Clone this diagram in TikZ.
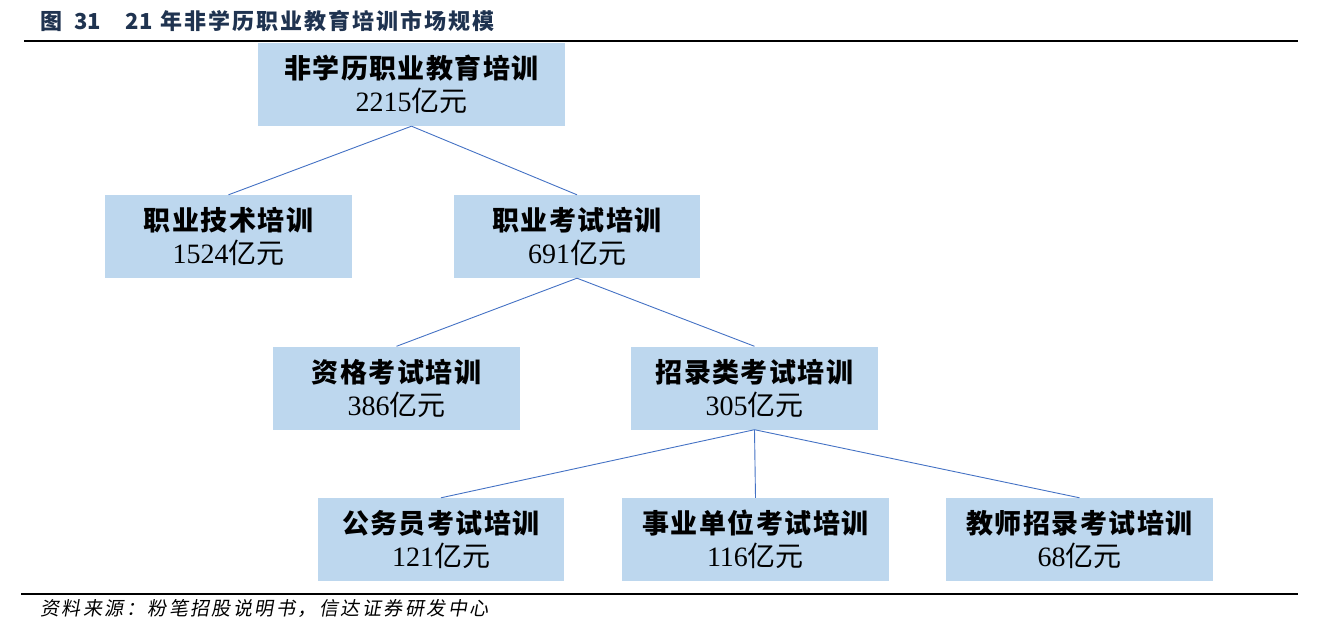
\documentclass[tikz,border=0pt]{standalone}
\usepackage{fontspec}
\setmainfont{Liberation Serif}
\newfontfamily\cjk{Noto Sans CJK SC}
\newfontfamily\cjkslant[FakeSlant=0.18,LetterSpace=13]{Noto Sans CJK SC}
\newfontfamily\cjktitle[LetterSpace=9]{Noto Sans CJK SC}
\newfontfamily\cjkhead[LetterSpace=5.5]{Noto Sans CJK SC}
\definecolor{boxblue}{HTML}{BDD7EE}
\definecolor{lineblue}{HTML}{4472C4}
\definecolor{titlecol}{HTML}{1F3350}
\tikzset{
  cat/.style={fill=boxblue, inner sep=0pt, align=center, minimum height=83pt,
    font=\fontsize{27}{33}\selectfont},
  conn/.style={draw=lineblue, line width=0.9pt},
  rule/.style={line width=2pt, black}
}
\newcommand{\lab}[2]{{\cjkhead\bfseries #1}\\{\fontsize{28}{33}\selectfont #2\cjk 亿元}}
\begin{document}
\begin{tikzpicture}[x=1pt,y=-1pt]
\useasboundingbox (0,0) rectangle (1318,631);
\node[anchor=base west, text=titlecol, font=\cjk\bfseries\fontsize{22}{24}\selectfont, inner sep=0pt] (title) at (40,30) {图\hspace{12pt}31\hspace{25pt}21\hspace{8pt}{\cjktitle\bfseries 年非学历职业教育培训市场规模}};
\coordinate (r1a) at (24,41);
\coordinate (r1b) at (1298,41);
\draw[rule] (r1a) -- (r1b);
\coordinate (r2a) at (21,594);
\coordinate (r2b) at (1298,594);
\draw[rule] (r2a) -- (r2b);
\node[anchor=base west, font=\cjkslant\fontsize{19}{20}\selectfont, inner sep=0pt] (src) at (40,615) {资料来源：粉笔招股说明书，信达证券研发中心};

\node[cat, minimum width=307pt] (top) at (411.5,84.5) {\lab{非学历职业教育培训}{2215}};
\node[cat, minimum width=247pt] (jsh) at (228.5,236.5) {\lab{职业技术培训}{1524}};
\node[cat, minimum width=246pt] (ks) at (577,236.5) {\lab{职业考试培训}{691}};
\node[cat, minimum width=247pt] (zg) at (396.5,388) {\lab{资格考试培训}{386}};
\node[cat, minimum width=247pt] (zl) at (754.5,388) {\lab{招录类考试培训}{305}};
\node[cat, minimum width=246pt] (gwy) at (441,539.5) {\lab{公务员考试培训}{121}};
\node[cat, minimum width=267pt] (sy) at (755.5,539.5) {\lab{事业单位考试培训}{116}};
\node[cat, minimum width=267pt] (js) at (1079.5,539.5) {\lab{教师招录考试培训}{68}};

\draw[conn] (top.south) -- (jsh.north);
\draw[conn] (top.south) -- (ks.north);
\draw[conn] (ks.south) -- (zg.north);
\draw[conn] (ks.south) -- (zl.north);
\draw[conn] (zl.south) -- (gwy.north);
\draw[conn] (zl.south) -- (sy.north);
\draw[conn] (zl.south) -- (js.north);
\end{tikzpicture}
\end{document}
